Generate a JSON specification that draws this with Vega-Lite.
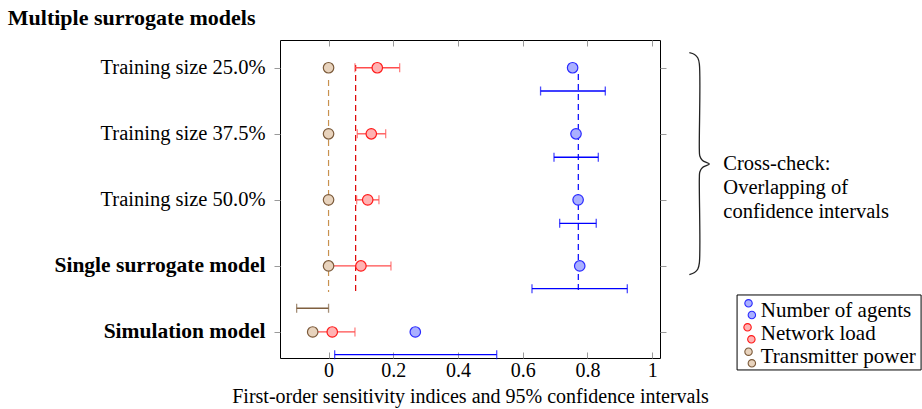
{
  "$schema": "https://vega.github.io/schema/vega-lite/v6.json",
  "width": 380,
  "height": 318,
  "autosize": {"type": "none"},
  "padding": {"left": 280, "top": 40, "right": 262, "bottom": 51},
  "background": "white",
  "config": {
    "font": "Liberation Serif",
    "view": {"stroke": "black", "strokeWidth": 1},
    "axis": {"labelFont": "Liberation Serif", "titleFont": "Liberation Serif", "labelColor": "black", "titleColor": "black", "labelFontSize": 20, "titleFontSize": 20, "titleFontWeight": "normal", "grid": false, "domain": false, "tickColor": "#9a9a9a", "tickWidth": 1, "labelLimit": 400}
  },
  "resolve": {"scale": {"color": "independent"}, "axis": {"x": "independent", "y": "independent"}},
  "datasets": {
    "points": [
      {"series": "Number of agents", "model": 5, "s": 0.754},
      {"series": "Number of agents", "model": 4, "s": 0.7645},
      {"series": "Number of agents", "model": 3, "s": 0.771},
      {"series": "Number of agents", "model": 2, "s": 0.776},
      {"series": "Number of agents", "model": 1, "s": 0.268},
      {"series": "Network load", "model": 5, "s": 0.1505},
      {"series": "Network load", "model": 4, "s": 0.132},
      {"series": "Network load", "model": 3, "s": 0.121},
      {"series": "Network load", "model": 2, "s": 0.1},
      {"series": "Network load", "model": 1, "s": 0.0114},
      {"series": "Transmitter power", "model": 5, "s": 0},
      {"series": "Transmitter power", "model": 4, "s": 0},
      {"series": "Transmitter power", "model": 3, "s": 0},
      {"series": "Transmitter power", "model": 2, "s": 0},
      {"series": "Transmitter power", "model": 1, "s": -0.049}
    ],
    "bars": [
      {"series": "Number of agents", "pos": 4.648, "lo": 0.655, "hi": 0.855},
      {"series": "Number of agents", "pos": 3.645, "lo": 0.6965, "hi": 0.8334},
      {"series": "Number of agents", "pos": 2.645, "lo": 0.714, "hi": 0.827},
      {"series": "Number of agents", "pos": 1.655, "lo": 0.6285, "hi": 0.923},
      {"series": "Number of agents", "pos": 0.656, "lo": 0.0189, "hi": 0.5195},
      {"series": "Network load", "pos": 5, "lo": 0.0816, "hi": 0.2197},
      {"series": "Network load", "pos": 4, "lo": 0.0887, "hi": 0.1765},
      {"series": "Network load", "pos": 3, "lo": 0.0868, "hi": 0.1557},
      {"series": "Network load", "pos": 2, "lo": 0.0, "hi": 0.1928},
      {"series": "Network load", "pos": 1, "lo": -0.049, "hi": 0.0816},
      {"series": "Transmitter power", "pos": 1.359, "lo": -0.0986, "hi": 0.0}
    ],
    "means": [
      {"series": "Number of agents", "s": 0.7716, "top": 4.905, "bottom": 1.636},
      {"series": "Network load", "s": 0.0837, "top": 5.04, "bottom": 1.605},
      {"series": "Transmitter power", "s": 0, "top": 4.815, "bottom": 1.605}
    ],
    "brace": [
      {"i": 0, "s": 1.1147, "model": 5.228},
      {"i": 1, "s": 1.1307, "model": 5.201},
      {"i": 2, "s": 1.1409, "model": 5.148},
      {"i": 3, "s": 1.1456, "model": 5.057},
      {"i": 4, "s": 1.1456, "model": 3.755},
      {"i": 5, "s": 1.147, "model": 3.664},
      {"i": 6, "s": 1.1554, "model": 3.596},
      {"i": 7, "s": 1.1765, "model": 3.543},
      {"i": 8, "s": 1.1554, "model": 3.49},
      {"i": 9, "s": 1.147, "model": 3.422},
      {"i": 10, "s": 1.1456, "model": 3.331},
      {"i": 11, "s": 1.1456, "model": 2.045},
      {"i": 12, "s": 1.1409, "model": 1.954},
      {"i": 13, "s": 1.1307, "model": 1.901},
      {"i": 14, "s": 1.1147, "model": 1.87}
    ],
    "notes": [
      {"label": "Cross-check:\nOverlapping of\nconfidence intervals", "s": 1.2197, "model": 3.545}
    ],
    "heading": [
      {"label": "Multiple surrogate models", "s": -0.991, "model": 5.757}
    ],
    "legendBox": [
      {"x1": 1.2621, "x2": 1.8306, "y1": 1.56, "y2": 0.425}
    ],
    "legendSymbols": [
      {"series": "Number of agents", "s": 1.2975, "model": 1.434},
      {"series": "Number of agents", "s": 1.3078, "model": 1.257},
      {"series": "Network load", "s": 1.2945, "model": 1.071},
      {"series": "Network load", "s": 1.3063, "model": 0.889},
      {"series": "Transmitter power", "s": 1.2975, "model": 0.702},
      {"series": "Transmitter power", "s": 1.3078, "model": 0.526}
    ],
    "legendLabels": [
      {"series": "Number of agents", "s": 1.3353, "model": 1.2316},
      {"series": "Network load", "s": 1.3353, "model": 0.879},
      {"series": "Transmitter power", "s": 1.3353, "model": 0.526}
    ]
  },
  "layer": [
    {
      "data": {"name": "means"},
      "mark": {"type": "rule", "strokeDash": [6, 4], "strokeWidth": 1.2},
      "encoding": {
        "x": {"field": "s", "type": "quantitative", "scale": {"domain": [-0.15, 1.024], "nice": false, "zero": false},
          "axis": {"orient": "bottom", "values": [0, 0.2, 0.4, 0.6, 0.8, 1], "format": "~g", "tickSize": -6, "labelPadding": 8, "title": "First-order sensitivity indices and 95% confidence intervals", "titlePadding": 6}},
        "y": {"field": "top", "type": "quantitative", "scale": {"domain": [0.606, 5.42], "nice": false, "zero": false},
          "axis": {"orient": "left", "values": [1, 2, 3, 4, 5], "tickSize": 6, "labelPadding": 9, "title": null,
            "labelExpr": "datum.value == 5 ? 'Training size 25.0%' : datum.value == 4 ? 'Training size 37.5%' : datum.value == 3 ? 'Training size 50.0%' : datum.value == 2 ? 'Single surrogate model' : 'Simulation model'",
            "labelFontWeight": {"condition": {"test": "datum.value <= 2", "value": "bold"}, "value": "normal"},
            "labelFontSize": {"condition": {"test": "datum.value <= 2", "value": 21.5}, "value": 20.5}}},
        "y2": {"field": "bottom"},
        "color": {"field": "series", "type": "nominal", "legend": null,
          "scale": {"domain": ["Number of agents", "Network load", "Transmitter power"], "range": ["#0000ff", "#dd0000", "#c8914f"]}}
      }
    },
    {
      "data": {"name": "bars"},
      "mark": {"type": "errorbar", "ticks": true, "size": 9, "thickness": 1.3, "orient": "horizontal"},
      "encoding": {
        "x": {"field": "lo", "type": "quantitative", "axis": {"orient": "top", "values": [0, 0.2, 0.4, 0.6, 0.8, 1], "labels": false, "tickSize": -6, "title": null}},
        "x2": {"field": "hi"},
        "y": {"field": "pos", "type": "quantitative", "axis": {"orient": "right", "values": [1, 2, 3, 4, 5], "labels": false, "tickSize": 6, "title": null}},
        "color": {"field": "series", "type": "nominal", "legend": null,
          "scale": {"domain": ["Number of agents", "Network load", "Transmitter power"], "range": ["#0000ff", "#ff4d4d", "#7f5f3f"]}}
      }
    },
    {
      "data": {"name": "points"},
      "mark": {"type": "point", "shape": "circle", "filled": true, "size": 110, "strokeWidth": 1.2, "opacity": 1},
      "encoding": {
        "x": {"field": "s", "type": "quantitative", "axis": null},
        "y": {"field": "model", "type": "quantitative", "axis": null},
        "fill": {"field": "series", "type": "nominal", "legend": null,
          "scale": {"domain": ["Number of agents", "Network load", "Transmitter power"], "range": ["#aab0ff", "#ffb3b3", "#e8d3bd"]}},
        "stroke": {"field": "series", "type": "nominal", "legend": null,
          "scale": {"domain": ["Number of agents", "Network load", "Transmitter power"], "range": ["#2b2bff", "#ff1a1a", "#7b5a3a"]}}
      }
    },
    {
      "data": {"name": "brace"},
      "mark": {"type": "line", "interpolate": "catmull-rom", "color": "#222222", "strokeWidth": 1.3},
      "encoding": {
        "x": {"field": "s", "type": "quantitative", "axis": null},
        "y": {"field": "model", "type": "quantitative", "axis": null},
        "order": {"field": "i", "type": "quantitative"}
      }
    },
    {
      "data": {"name": "notes"},
      "mark": {"type": "text", "align": "left", "baseline": "middle", "lineBreak": "\n", "lineHeight": 24, "fontSize": 20.5, "font": "Liberation Serif", "color": "black"},
      "encoding": {
        "x": {"field": "s", "type": "quantitative", "axis": null},
        "y": {"field": "model", "type": "quantitative", "axis": null},
        "text": {"field": "label", "type": "nominal"}
      }
    },
    {
      "data": {"name": "heading"},
      "mark": {"type": "text", "align": "left", "baseline": "middle", "fontSize": 22, "fontWeight": "bold", "font": "Liberation Serif", "color": "black"},
      "encoding": {
        "x": {"field": "s", "type": "quantitative", "axis": null},
        "y": {"field": "model", "type": "quantitative", "axis": null},
        "text": {"field": "label", "type": "nominal"}
      }
    },
    {
      "data": {"name": "legendBox"},
      "mark": {"type": "rect", "fill": "white", "stroke": "black", "strokeWidth": 1},
      "encoding": {
        "x": {"field": "x1", "type": "quantitative", "axis": null},
        "x2": {"field": "x2"},
        "y": {"field": "y1", "type": "quantitative", "axis": null},
        "y2": {"field": "y2"}
      }
    },
    {
      "data": {"name": "legendSymbols"},
      "mark": {"type": "point", "shape": "circle", "filled": true, "size": 55, "strokeWidth": 1.1, "opacity": 1},
      "encoding": {
        "x": {"field": "s", "type": "quantitative", "axis": null},
        "y": {"field": "model", "type": "quantitative", "axis": null},
        "fill": {"field": "series", "type": "nominal", "legend": null},
        "stroke": {"field": "series", "type": "nominal", "legend": null}
      }
    },
    {
      "data": {"name": "legendLabels"},
      "mark": {"type": "text", "align": "left", "baseline": "alphabetic", "fontSize": 21, "font": "Liberation Serif", "color": "black"},
      "encoding": {
        "x": {"field": "s", "type": "quantitative", "axis": null},
        "y": {"field": "model", "type": "quantitative", "axis": null},
        "text": {"field": "series", "type": "nominal"}
      }
    }
  ]
}
